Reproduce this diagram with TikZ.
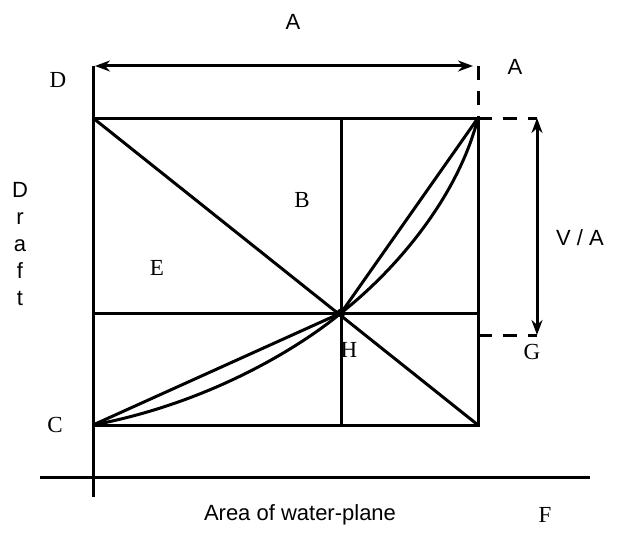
\documentclass[tikz,border=0pt]{standalone}
\usepackage{fontspec}
\setmainfont{Liberation Serif}
\setsansfont{Liberation Sans}
\usetikzlibrary{arrows.meta}

\begin{document}
\begin{tikzpicture}[x=1pt,y=-1pt,line width=3pt,
  lbl/.style={font=\fontsize{23}{25}\selectfont},
  slbl/.style={font=\sffamily\fontsize{22}{24}\selectfont},
  dim/.style={{Stealth[length=15pt,width=11pt]}-{Stealth[length=15pt,width=11pt]}},
  dsh/.style={dash pattern=on 14pt off 11pt}]
  \useasboundingbox (0,0) rectangle (628,532);
  % box corners and crossing lines
  \coordinate (top-left) at (93,118);
  \coordinate (top-right) at (478,118);
  \coordinate (bot-left) at (93,425);
  \coordinate (bot-right) at (478,425);
  \coordinate (mid-top) at (341,118);
  \coordinate (mid-bot) at (341,425);
  \coordinate (left-mid) at (93,313);
  \coordinate (right-mid) at (478,313);
  \coordinate (H) at (341,313);
  % axes and dimension ends
  \coordinate (axis-top) at (93,66);
  \coordinate (axis-bot) at (93,497);
  \coordinate (base-l) at (40,477);
  \coordinate (base-r) at (590,477);
  \coordinate (corner) at (478,66);
  \coordinate (v-top) at (537,118);
  \coordinate (v-bot) at (537,335);
  \coordinate (g-left) at (478,335);

  \draw (axis-top) -- (axis-bot);
  \draw (base-l) -- (base-r);
  \draw (top-left) rectangle (bot-right);
  \draw (mid-top) -- (mid-bot);
  \draw (left-mid) -- (right-mid);
  \draw (top-left) -- (bot-right);
  \draw (bot-left) -- (H) -- (top-right);
  \draw (bot-left) .. controls (215,402) and (305,343) .. (H)
                   .. controls (398,268) and (458,196) .. (top-right);
  \fill (H) circle (4.5);

  \draw[dim,shorten <=2pt,shorten >=5pt] (axis-top) -- (corner);
  \draw[dsh] (corner) -- (top-right);
  \draw[dsh] (top-right) -- (v-top);
  \draw[dsh] (g-left) -- (v-bot);
  \draw[dim] (v-top) -- (v-bot);

  \node[slbl] (top-A) at (293,22) {A};
  \node[slbl] (right-A) at (515,67) {A};
  \node[lbl] (lbl-D) at (58,80) {D};
  \node[lbl] (lbl-B) at (302,200) {B};
  \node[lbl] (lbl-E) at (157,268) {E};
  \node[lbl] (lbl-H) at (349,350) {H};
  \node[lbl] (lbl-G) at (532,352) {G};
  \node[lbl] (lbl-C) at (55,425) {C};
  \node[lbl] (lbl-F) at (545,515) {F};
  \node[slbl] (lbl-VA) at (580,238) {V / A};
  \node[slbl] (x-title) at (300,515) {Area of water-plane};
  \foreach \ch [count=\i] in {D,r,a,f,t}
    \node[slbl,anchor=base] (draft-\i) at (20,{197+27*(\i-1)}) {\ch};
\end{tikzpicture}
\end{document}
